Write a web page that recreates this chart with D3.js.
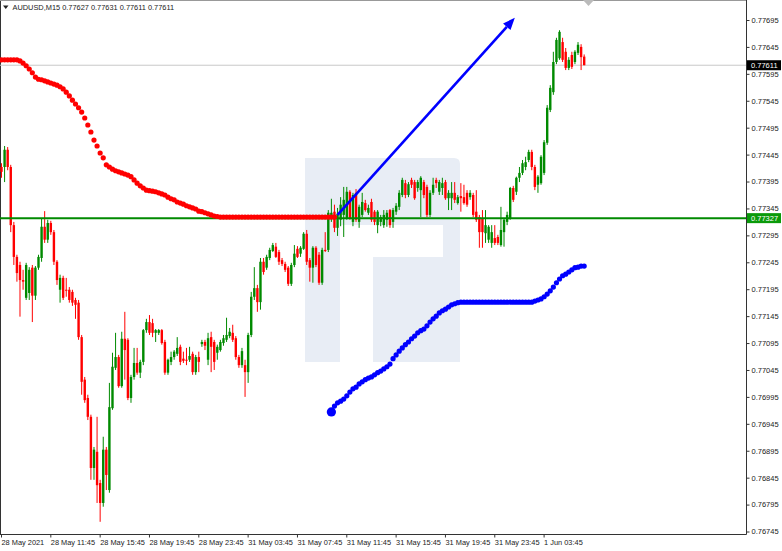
<!DOCTYPE html>
<html><head><meta charset="utf-8">
<script src="https://cdn.jsdelivr.net/npm/d3@7"></script>
<style>
body{margin:0;background:#fff;}
svg{display:block;font-family:"Liberation Sans",Arial,sans-serif;}
</style>
</head><body>
<svg id="c" width="782" height="551"></svg>
<script>
// ---------------- DATA ----------------
const symbolTitle = "AUDUSD,M15";
const titleOHLC = ["0.77627","0.77631","0.77611","0.77611"];

const open = [
.77422,.77422,.77454,.77422,.77314,.77255,.77240,.77212,.77179,.77188,
.77235,.77183,.77235,.77253,.77311,.77287,.77318,.77301,.77246,.77194,
.77216,.77194,.77194,.77190,.77175,.77170,.77106,.77027,.76993,.76958,
.76863,.76893,.76835,.76798,.76897,.76822,.76974,.77049,.77069,.77015,
.77103,.77101,.76993,.77032,.77058,.77040,.77060,.77119,.77134,.77132,
.77114,.77114,.77119,.77097,.77040,.77060,.77069,.77075,.77088,.77066,
.77064,.77064,.77075,.77041,.77069,.77093,.77097,.77064,.77106,.77097,
.77077,.77082,.77095,.77101,.77108,.77114,.77104,.77069,.77054,.77054,
.77041,.77110,.77181,.77197,.77171,.77246,.77235,.77253,.77266,.77274,
.77264,.77249,.77242,.77235,.77205,.77240,.77270,.77261,.77270,.77298,
.77249,.77235,.77272,.77259,.77207,.77268,.77268,.77327,.77339,.77309,
.77324,.77333,.77327,.77376,.77320,.77374,.77320,.77333,.77355,.77337,
.77357,.77339,.77314,.77320,.77314,.77324,.77342,.77320,.77339,.77348,
.77370,.77392,.77370,.77398,.77394,.77383,.77379,.77394,.77385,.77333,
.77374,.77398,.77376,.77383,.77394,.77364,.77364,.77374,.77355,.77368,
.77366,.77374,.77366,.77370,.77339,.77329,.77327,.77299,.77287,.77281,
.77290,.77292,.77277,.77301,.77320,.77327,.77383,.77376,.77402,.77411,
.77422,.77435,.77450,.77422,.77389,.77392,.77411,.77467,.77528,.77561,
.77617,.77624,.77654,.77636,.77606,.77630,.77617,.77634,.77645,.77627
];
const high = [
.77429,.77461,.77459,.77426,.77320,.77259,.77246,.77231,.77244,.77236,
.77240,.77238,.77259,.77327,.77340,.77324,.77322,.77305,.77249,.77222,
.77220,.77216,.77199,.77194,.77179,.77175,.77110,.77032,.76999,.76962,
.76902,.76958,.76841,.76921,.76902,.77021,.77077,.77114,.77073,.77116,
.77153,.77104,.77036,.77086,.77086,.77064,.77121,.77140,.77147,.77140,
.77121,.77121,.77121,.77101,.77066,.77079,.77082,.77106,.77092,.77079,
.77086,.77088,.77079,.77073,.77079,.77101,.77101,.77114,.77116,.77101,
.77092,.77101,.77110,.77142,.77123,.77129,.77108,.77073,.77086,.77064,
.77114,.77190,.77236,.77203,.77253,.77253,.77259,.77272,.77281,.77281,
.77268,.77253,.77246,.77238,.77244,.77277,.77275,.77275,.77301,.77305,
.77253,.77275,.77275,.77264,.77272,.77301,.77342,.77363,.77352,.77346,
.77366,.77385,.77385,.77379,.77374,.77381,.77352,.77374,.77361,.77352,
.77363,.77342,.77342,.77333,.77342,.77342,.77344,.77346,.77355,.77379,
.77402,.77398,.77394,.77402,.77398,.77398,.77405,.77398,.77389,.77379,
.77402,.77402,.77398,.77402,.77398,.77379,.77394,.77394,.77370,.77392,
.77389,.77379,.77379,.77374,.77379,.77333,.77342,.77342,.77314,.77314,
.77314,.77296,.77348,.77327,.77339,.77385,.77387,.77404,.77422,.77435,
.77441,.77454,.77454,.77426,.77407,.77444,.77472,.77537,.77574,.77636,
.77662,.77676,.77662,.77643,.77626,.77636,.77639,.77654,.77650,.77631
];
const low = [
.77402,.77394,.77416,.77301,.77240,.77209,.77144,.77194,.77175,.77175,
.77134,.77175,.77231,.77246,.77281,.77281,.77296,.77240,.77203,.77170,
.77175,.77181,.77170,.77164,.77140,.77101,.76999,.76984,.76952,.76841,
.76841,.76798,.76763,.76791,.76822,.76817,.76971,.77045,.77012,.77012,
.77027,.76989,.76984,.77027,.77036,.77030,.77054,.77114,.77110,.77106,
.77097,.77110,.77092,.77036,.77036,.77054,.77064,.77071,.77054,.77058,
.77054,.77060,.77036,.77036,.77041,.77088,.77082,.77054,.77041,.77045,
.77064,.77079,.77090,.77097,.77104,.77097,.77064,.77049,.77049,.76995,
.77021,.77106,.77175,.77153,.77157,.77222,.77231,.77249,.77264,.77253,
.77240,.77238,.77227,.77201,.77201,.77236,.77253,.77255,.77268,.77240,
.77209,.77207,.77236,.77203,.77203,.77264,.77264,.77320,.77301,.77294,
.77312,.77292,.77324,.77324,.77312,.77320,.77309,.77329,.77339,.77333,
.77320,.77314,.77299,.77312,.77309,.77311,.77309,.77309,.77333,.77342,
.77366,.77364,.77366,.77383,.77361,.77376,.77329,.77364,.77329,.77329,
.77370,.77383,.77370,.77370,.77361,.77342,.77342,.77355,.77352,.77339,
.77352,.77348,.77361,.77329,.77320,.77272,.77272,.77281,.77281,.77272,
.77277,.77277,.77274,.77274,.77314,.77324,.77357,.77370,.77394,.77407,
.77416,.77431,.77416,.77379,.77374,.77389,.77407,.77463,.77524,.77556,
.77613,.77621,.77617,.77602,.77602,.77604,.77613,.77630,.77602,.77611
];
const close = [
.77413,.77454,.77422,.77314,.77255,.77225,.77212,.77209,.77240,.77231,
.77183,.77235,.77255,.77311,.77287,.77318,.77301,.77246,.77212,.77216,
.77179,.77193,.77175,.77170,.77166,.77106,.77023,.76989,.76958,.76863,
.76897,.76831,.76798,.76897,.76850,.76976,.77051,.77069,.77015,.77103,
.77082,.76993,.77032,.77058,.77040,.77060,.77119,.77134,.77114,.77114,
.77119,.77119,.77095,.77040,.77064,.77069,.77079,.77086,.77060,.77062,
.77063,.77071,.77041,.77069,.77060,.77097,.77090,.77104,.77088,.77060,
.77088,.77097,.77104,.77110,.77116,.77101,.77069,.77054,.77080,.77041,
.77110,.77181,.77197,.77171,.77246,.77227,.77255,.77268,.77277,.77255,
.77246,.77242,.77231,.77205,.77240,.77261,.77255,.77272,.77298,.77246,
.77235,.77272,.77240,.77207,.77268,.77267,.77337,.77337,.77309,.77335,
.77352,.77361,.77376,.77327,.77370,.77324,.77348,.77357,.77342,.77346,
.77324,.77320,.77339,.77329,.77333,.77337,.77314,.77342,.77350,.77374,
.77398,.77370,.77390,.77389,.77364,.77394,.77402,.77370,.77333,.77374,
.77389,.77392,.77394,.77392,.77364,.77374,.77374,.77361,.77366,.77364,
.77355,.77352,.77374,.77333,.77324,.77301,.77301,.77314,.77311,.77301,
.77281,.77281,.77305,.77324,.77333,.77383,.77361,.77402,.77411,.77429,
.77431,.77450,.77422,.77385,.77404,.77441,.77468,.77532,.77569,.77617,
.77658,.77673,.77621,.77606,.77621,.77608,.77636,.77649,.77626,.77611
];

// red dotted indicator (bars 0..108)
const redIndicator = [
.77621,.77621,.77621,.77621,.77621,.77621,.77619,.77615,.77610,.77604,
.77597,.77589,.77585,.77584,.77582,.77580,.77578,.77576,.77574,.77571,
.77567,.77561,.77554,.77546,.77539,.77532,.77524,.77513,.77500,.77487,
.77472,.77461,.77448,.77439,.77426,.77422,.77418,.77415,.77413,.77411,
.77409,.77407,.77404,.77398,.77392,.77387,.77383,.77379,.77378,.77377,
.77376,.77374,.77372,.77370,.77366,.77363,.77361,.77357,.77355,.77353,
.77350,.77348,.77346,.77344,.77340,.77339,.77337,.77335,.77333,.77331,
.77330,.77329,.77329,.77329,.77329,.77329,.77329,.77329,.77329,.77329,
.77329,.77329,.77329,.77329,.77329,.77329,.77329,.77329,.77329,.77329,
.77329,.77329,.77329,.77329,.77329,.77329,.77329,.77329,.77329,.77329,
.77329,.77329,.77329,.77329,.77329,.77329,.77329,.77329,.77329
];
const redStart = 0;

// blue dotted indicator (bars 107..189)
const blueIndicator = [
.76967,.76978,.76984,.76987,.76991,.76997,.77004,.77010,.77013,.77019,
.77023,.77027,.77030,.77032,.77036,.77040,.77043,.77047,.77051,.77056,
.77066,.77073,.77080,.77086,.77092,.77097,.77103,.77108,.77114,.77118,
.77121,.77127,.77134,.77140,.77145,.77151,.77155,.77158,.77162,.77166,
.77168,.77170,.77171,.77171,.77171,.77171,.77171,.77171,.77171,.77171,
.77171,.77171,.77171,.77171,.77171,.77171,.77171,.77171,.77171,.77171,
.77171,.77171,.77171,.77171,.77171,.77171,.77173,.77175,.77177,.77181,
.77186,.77192,.77199,.77207,.77214,.77220,.77223,.77227,.77231,.77235,
.77236,.77238,.77238
];
const blueStart = 107;

const arrowFromBar = 109, arrowFromPrice = 0.77333;
const arrowToBar = 166.5, arrowToPrice = 0.77699;

const levelPrice = 0.77327;
const bidPrice = 0.77611;

const priceTicks = [0.77695,0.77645,0.77595,0.77545,0.77495,0.77445,0.77395,0.77345,0.77295,0.77245,
  0.77195,0.77145,0.77095,0.77045,0.76995,0.76945,0.76895,0.76845,0.76795,0.76745];
const timeTickBars = [0,16,32,48,64,80,96,112,128,144,160,176];
const timeLabels = ["28 May 2021","28 May 11:45","28 May 15:45","28 May 19:45","28 May 23:45",
  "31 May 03:45","31 May 07:45","31 May 11:45","31 May 15:45","31 May 19:45","31 May 23:45","1 Jun 03:45"];

// ---------------- DRAW ----------------
const GREEN = "#008a00", RED = "#ff0000", BLUE = "#0000ff";
const plotR = 746.5, plotB = 534.5;
const svg = d3.select("#c");
const x = d3.scaleLinear().domain([0, 240]).range([1.5, 1.5 + 240 * 3.083]);
const y = d3.scaleLinear().domain([0.76745, 0.77695]).range([531.5, 20]);

// watermark logo
svg.append("path")
  .attr("d", "M305,158H454Q460,158 460,164V362H373V257H443V225H340V362H305Z")
  .attr("fill", "#e8edf5");

// frame
svg.append("line").attr("x1", 0.5).attr("x2", 0.5).attr("y1", 0).attr("y2", plotB).attr("stroke", "#333");
svg.append("line").attr("x1", 0).attr("x2", plotR).attr("y1", 0.5).attr("y2", 0.5).attr("stroke", "#999");
svg.append("path").attr("d", "M583,0H594L588.5,6Z").attr("fill", "#bbb");

// bid line
svg.append("line").attr("x1", 0).attr("x2", plotR).attr("y1", y(bidPrice)).attr("y2", y(bidPrice))
  .attr("stroke", "#c8c8c8").attr("stroke-width", 1);

// candles
const idx = d3.range(open.length);
const col = i => close[i] >= open[i] ? GREEN : RED;
const cg = svg.append("g");
cg.selectAll("line").data(idx).join("line")
  .attr("x1", i => x(i)).attr("x2", i => x(i))
  .attr("y1", i => y(high[i])).attr("y2", i => y(low[i]))
  .attr("stroke", col).attr("stroke-width", 1);
cg.selectAll("rect").data(idx).join("rect")
  .attr("x", i => x(i) - 1.2).attr("width", 2.4)
  .attr("y", i => y(Math.max(open[i], close[i])))
  .attr("height", i => Math.max(1, Math.abs(y(open[i]) - y(close[i]))))
  .attr("fill", col);

// horizontal level
svg.append("line").attr("x1", 0).attr("x2", plotR).attr("y1", y(levelPrice)).attr("y2", y(levelPrice))
  .attr("stroke", GREEN).attr("stroke-width", 2);

// red dots
svg.append("g").selectAll("circle").data(redIndicator).join("circle")
  .attr("cx", (d, k) => x(redStart + k)).attr("cy", d => y(d)).attr("r", 2.6).attr("fill", RED);

// blue dots
svg.append("g").selectAll("circle").data(blueIndicator).join("circle")
  .attr("cx", (d, k) => x(blueStart + k)).attr("cy", d => y(d))
  .attr("r", (d, k) => k === 0 ? 4.6 : 2.6).attr("fill", BLUE);

// arrow
{
  const x1 = x(arrowFromBar), y1 = y(arrowFromPrice), x2 = x(arrowToBar), y2 = y(arrowToPrice);
  const a = Math.atan2(y2 - y1, x2 - x1), L = 12, Wd = 5;
  const bx = x2 - L * Math.cos(a), by = y2 - L * Math.sin(a);
  svg.append("line").attr("x1", x1).attr("y1", y1).attr("x2", bx).attr("y2", by)
    .attr("stroke", BLUE).attr("stroke-width", 2.6);
  const px = -Math.sin(a) * Wd, py = Math.cos(a) * Wd;
  svg.append("path").attr("d", `M${x2},${y2}L${bx + px},${by + py}L${bx - px},${by - py}Z`).attr("fill", BLUE);
}

// axes lines
svg.append("line").attr("x1", plotR).attr("x2", plotR).attr("y1", 0).attr("y2", plotB).attr("stroke", "#333");
svg.append("line").attr("x1", 0).attr("x2", plotR).attr("y1", plotB).attr("y2", plotB).attr("stroke", "#333");

// right axis
const ay = svg.append("g").attr("transform", `translate(${plotR},0)`)
  .call(d3.axisRight(y).tickValues(priceTicks).tickSize(3).tickPadding(2).tickFormat(d3.format(".5f")));
ay.select(".domain").remove();
ay.selectAll("line").attr("stroke", "#333");
ay.selectAll("text").attr("font-size", 7.5).attr("fill", "#222").attr("font-family", "Liberation Sans, Arial, sans-serif");

// bottom axis
const ax = svg.append("g").attr("transform", `translate(0,${plotB})`)
  .call(d3.axisBottom(x).tickValues(timeTickBars).tickSize(3).tickFormat((d, i) => timeLabels[i]));
ax.select(".domain").remove();
ax.selectAll("line").attr("stroke", "#333").attr("transform", "translate(-0.5,0)");
ax.selectAll("text").attr("font-size", 7.4).attr("fill", "#222").attr("text-anchor", "start")
  .attr("dx", -0.5).attr("dy", "0.55em").attr("font-family", "Liberation Sans, Arial, sans-serif");

// price boxes
function priceBox(p, bg) {
  const yy = y(p);
  svg.append("rect").attr("x", plotR + 0.5).attr("y", yy - 5).attr("width", 34).attr("height", 10).attr("fill", bg);
  svg.append("text").attr("x", plotR + 4.5).attr("y", yy).attr("dy", "0.35em")
    .attr("font-size", 7.5).attr("fill", "#fff").text(d3.format(".5f")(p));
}
priceBox(bidPrice, "#000");
priceBox(levelPrice, "#0a9a0a");

// title
svg.append("path").attr("d", "M3,5.5H8.5L5.75,9Z").attr("fill", "#222");
svg.append("text").attr("x", 12.5).attr("y", 7.5).attr("dy", "0.35em").attr("font-size", 7.4).attr("fill", "#222")
  .text(symbolTitle + "  " + titleOHLC.join(" "));
</script>
</body></html>
